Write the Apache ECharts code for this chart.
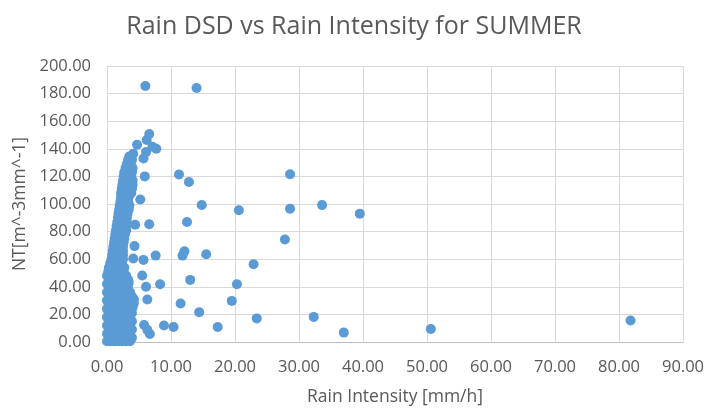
<!DOCTYPE html>
<html>
<head>
<meta charset="utf-8">
<script src="https://cdn.jsdelivr.net/npm/echarts@6/dist/echarts.min.js"></script>
<style>html,body{margin:0;padding:0;background:#fff}#c{width:708px;height:411px}</style>
</head>
<body>
<div id="c"></div>
<script>
// Dense cluster of points near the origin: [Rain Intensity mm/h, NT]
const clusterPoints = [
  [0.0,0.5],[0.6,0.5],[1.2,0.5],[1.8,0.5],[2.4,0.5],[3.0,0.5],[3.6,0.5],
  [0.3,3],[0.9,3],[1.5,3],[2.1,3],[2.7,3],[3.3,3],[3.9,3],
  [0.0,6],[0.6,6],[1.2,6],[1.8,6],[2.4,6],[3.0,6],[3.6,6],
  [0.3,9],[0.9,9],[1.5,9],[2.1,9],[2.7,9],[3.3,9],[3.9,9],
  [0.0,12],[0.6,12],[1.2,12],[1.8,12],[2.4,12],[3.0,12],[3.6,12],
  [0.3,15],[0.9,15],[1.5,15],[2.1,15],[2.7,15],[3.3,15],[3.9,15],
  [0.0,18],[0.6,18],[1.2,18],[1.8,18],[2.4,18],[3.0,18],[3.6,18],
  [0.3,21],[0.9,21],[1.5,21],[2.1,21],[2.7,21],[3.3,21],[3.9,21],
  [0.0,24],[0.6,24],[1.2,24],[1.8,24],[2.4,24],[3.0,24],[3.6,24],[4.0,25],
  [0.3,27],[0.9,27],[1.5,27],[2.1,27],[2.7,27],[3.3,27],[3.9,27],[4.2,28],
  [0.0,30],[0.6,30],[1.2,30],[1.8,30],[2.4,30],[3.0,30],[3.6,30],[4.2,31],
  [0.3,33],[0.9,33],[1.5,33],[2.1,33],[2.7,33],[3.3,33],[3.9,33],
  [0.0,36],[0.6,36],[1.2,36],[1.8,36],[2.4,36],[3.0,36],[3.6,36],
  [0.3,39],[0.9,39],[1.5,39],[2.1,39],[2.7,39],[3.3,39],
  [0.0,42],[0.6,42],[1.2,42],[1.8,42],[2.4,42],[3.0,42],[3.4,43],
  [0.3,45],[0.9,45],[1.5,45],[2.1,45],[2.7,45],[3.3,45],
  [0.0,48],[0.6,48],[1.2,48],[1.8,48],[2.4,48],[3.0,48],
  [0.2,51],[0.8,51],[1.4,51],[2.0,51],[2.6,51],
  [0.3,54],[0.9,54],[1.5,54],[2.1,54],[2.7,54],
  [0.5,57],[1.1,57],[1.7,57],[2.3,57],
  [0.7,60],[1.3,60],[1.9,60],[2.5,60],
  [0.8,63],[1.4,63],[2.0,63],[2.5,63],
  [0.9,66],[1.5,66],[2.1,66],[2.5,66],
  [1.0,69],[1.6,69],[2.2,69],[2.5,69],
  [1.1,72],[1.7,72],[2.3,72],[2.6,72],
  [1.2,75],[1.8,75],[2.4,75],[2.7,75],
  [1.3,78],[1.9,78],[2.5,78],[2.8,78],
  [1.4,81],[2.0,81],[2.6,81],[3.0,81],
  [1.5,84],[2.1,84],[2.7,84],[3.0,84],
  [1.6,87],[2.2,87],[2.8,87],[3.1,87],
  [1.7,90],[2.3,90],[2.9,90],[3.1,90],
  [1.8,93],[2.4,93],[3.0,93],[3.2,93],
  [1.9,96],[2.5,96],[3.1,96],[3.4,96],
  [2.0,99],[2.6,99],[3.2,99],[3.5,99],
  [2.1,102],[2.7,102],[3.3,102],
  [2.2,105],[2.8,105],[3.4,105],
  [2.2,108],[2.8,108],[3.4,108],[3.8,108],
  [2.3,111],[2.9,111],[3.5,111],[3.9,111],
  [2.4,114],[3.0,114],[3.6,114],[4.0,114],
  [2.5,117],[3.1,117],[3.7,117],[4.0,117],
  [2.6,120],[3.2,120],[3.8,120],
  [2.7,123],[3.3,123],[3.9,123],
  [2.9,126],[3.5,126],[4.0,126],
  [3.1,129],[3.7,129],
  [3.3,132],[3.9,132],
  [3.5,134.5]
];
// Scattered points away from the cluster
const outlierPoints = [
  [6.0,185.5],[14.0,184.0],[6.6,150.7],[6.2,146.4],[4.7,142.9],[7.7,140.0],
  [7.1,141.5],[6.1,137.6],[5.7,133.0],[4.1,136.4],[5.9,120.0],[5.2,103.3],
  [11.25,121.4],[12.8,115.9],[14.8,99.3],[20.6,95.5],[12.5,86.9],[6.6,85.3],
  [4.4,85.0],[4.3,69.5],[12.1,65.7],[11.8,62.6],[15.5,63.6],[7.6,62.6],
  [5.7,59.5],[4.1,60.5],[22.9,56.4],[13.0,45.0],[8.3,41.9],[20.3,41.9],
  [5.5,48.2],[6.1,40.0],[19.5,29.8],[11.5,27.9],[6.3,30.8],[14.4,21.6],
  [23.4,17.1],[17.3,10.9],[10.4,10.9],[8.9,11.9],[5.8,12.3],[6.3,8.8],
  [6.7,5.8],[28.6,121.5],[28.6,96.6],[33.6,99.2],[39.5,93.0],[27.8,74.3],
  [32.3,18.2],[37.0,6.8],[50.6,9.4],[81.8,15.6]
];
const xTicks = [0,10,20,30,40,50,60,70,80,90];
const yTicks = [0,20,40,60,80,100,120,140,160,180,200];

const chart = echarts.init(document.getElementById('c'), null, {renderer:'canvas'});
const txt = '#595959';
const ff = '"Open Sans", "Noto Sans", sans-serif';
chart.setOption({
  animation:false,
  title:{text:'Rain DSD vs Rain Intensity for SUMMER', left:'center', top:9,
    textStyle:{color:txt, fontSize:25, fontWeight:'normal', fontFamily:ff}},
  grid:{left:107, right:25, top:66, bottom:65},
  xAxis:{type:'value', min:xTicks[0], max:xTicks[xTicks.length-1], interval:10,
    name:'Rain Intensity [mm/h]', nameLocation:'middle', nameGap:46,
    nameTextStyle:{color:txt, fontSize:17.5, fontFamily:ff},
    axisLine:{show:true, lineStyle:{color:'#bfbfbf'}}, axisTick:{show:false},
    axisLabel:{color:txt, fontSize:16.5, fontFamily:ff, margin:17, formatter:v=>v.toFixed(2)},
    splitLine:{show:true, lineStyle:{color:'#d9d9d9'}}},
  yAxis:{type:'value', min:yTicks[0], max:yTicks[yTicks.length-1], interval:20,
    name:'NT[m^-3mm^-1]', nameLocation:'middle', nameGap:78,
    nameTextStyle:{color:txt, fontSize:17.5, fontFamily:ff},
    axisLine:{show:true, lineStyle:{color:'#d9d9d9'}}, axisTick:{show:false},
    axisLabel:{color:txt, fontSize:16.5, fontFamily:ff, margin:16, formatter:v=>v.toFixed(2)},
    splitLine:{show:true, lineStyle:{color:'#d9d9d9'}}},
  series:[{type:'scatter', symbolSize:10, itemStyle:{color:'#5b9bd5', opacity:1, borderWidth:0},
    data: clusterPoints.concat(outlierPoints)}]
});
</script>
</body>
</html>
